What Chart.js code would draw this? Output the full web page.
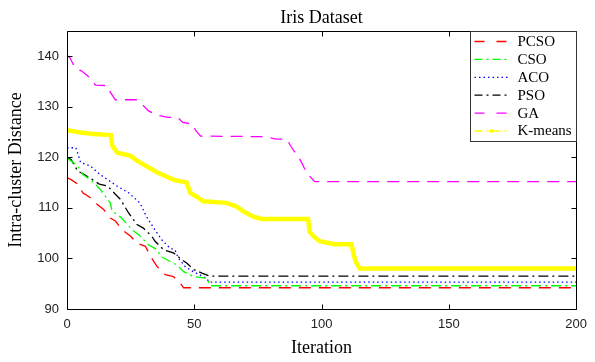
<!DOCTYPE html>
<html>
<head>
<meta charset="utf-8">
<script src="https://cdn.jsdelivr.net/npm/chart.js@4.4.1/dist/chart.umd.min.js"></script>
<style>
  html, body { margin: 0; padding: 0; background: #fff; }
  #wrap { width: 595px; height: 362px; }
</style>
</head>
<body>
<div id="wrap"><canvas id="irisChart" width="595" height="362"></canvas></div>
<script>
// convergence curves: iteration / intra-cluster distance
const pcsoIter = [0, 1.6, 4.2, 6.2, 9.2, 11.8, 14.4, 17, 19, 21.6, 25, 27.5, 30.8, 32.8, 35.4, 38.6, 41.8, 44.5, 45.8, 200];
const pcsoVal  = [116, 115.6, 114.7, 113, 112, 110.7, 109.7, 108, 107.4, 105.7, 104.4, 103, 102.4, 100.4, 98.4, 96.8, 96.4, 95.1, 94.2, 94.2];

const csoIter = [0, 1.6, 4.2, 6.2, 9.2, 10.5, 13, 17, 17.7, 21.5, 25.5, 28.2, 32, 35.5, 36.8, 40.6, 43.2, 45.8, 49.8, 54.8, 56.3, 200];
const csoVal  = [119.8, 119.3, 118.3, 116.6, 115.6, 115, 113.7, 111, 109.4, 108, 105.7, 104.7, 102.7, 101.7, 100.4, 99.4, 98.7, 97.4, 96.4, 96.1, 94.6, 94.6];

const acoIter = [0, 3.5, 4.5, 5.3, 9.2, 13, 19.7, 24.2, 28.6, 31.2, 34.5, 37.2, 40.5, 42.4, 43.7, 46.4, 49.5, 50.8, 54.7, 56, 200];
const acoVal  = [121.9, 121.9, 120.4, 119, 118.3, 116.6, 114.3, 113, 111, 108.3, 105.7, 103.7, 102, 101.7, 100.1, 98.4, 97.4, 97.1, 96.1, 95.3, 95.3];

const psoIter = [0, 1.6, 4.2, 6.8, 10, 12.7, 16, 19, 21, 24.2, 27.5, 30, 33.3, 34.6, 38, 41.8, 45.2, 47, 49.8, 53, 56, 200];
const psoVal  = [120, 119.6, 117.3, 116.6, 115.6, 114.7, 114.3, 112.7, 111.7, 109, 106.7, 106, 104.4, 103.4, 101.7, 101.1, 99.7, 99.1, 97.8, 97.1, 96.5, 96.5];

const gaIter = [0, 1.3, 3, 6, 9.2, 11.2, 15.8, 17, 19, 27.4, 29.7, 32, 35.2, 39.6, 43.5, 45.5, 49.2, 50.6, 52.5, 77.8, 82.2, 86.3, 88.2, 91.5, 93.5, 95.3, 97.3, 200];
const gaVal  = [140.2, 139.6, 137.8, 137, 135.7, 134.3, 134.2, 132.9, 131.4, 131.4, 130.4, 129.2, 128.4, 127.9, 127.9, 126.9, 126.6, 125.3, 124.2, 124.1, 123.6, 123.6, 122, 119.6, 117.6, 116.3, 115.2, 115.2];

const kmIter = [0, 1, 5.5, 10.5, 17.2, 17.8, 19.8, 25, 27.6, 35.5, 41.8, 47, 48.4, 51, 53.5, 62.7, 66.5, 69, 73, 76.3, 94.7, 95.3, 96.8, 99.3, 105, 111.7, 113, 113.7, 115, 200];
const kmVal  = [125.3, 125.3, 124.9, 124.6, 124.4, 122.3, 120.9, 120.3, 119.3, 117, 115.6, 115, 113, 112.2, 111.3, 111, 110.3, 109.4, 108.3, 107.8, 107.8, 105.3, 104.4, 103.4, 102.8, 102.8, 100, 99.1, 98, 98];

const xTicks = [0, 50, 100, 150, 200];
const yTicks = [90, 100, 110, 120, 130, 140];

const toPts = (xs, ys) => xs.map((x, i) => ({ x: x, y: ys[i] }));

const serif = '"Liberation Serif", "Times New Roman", serif';
const sans = '"Liberation Sans", Arial, sans-serif';

// inward ticks + box, matlab style
const boxTicks = {
    id: 'boxTicks',
    afterDatasetsDraw(chart) {
        const { ctx, chartArea: a, scales: { x, y } } = chart;
        const L = Math.round(a.left) + 0.5, R = Math.round(a.right) + 0.5;
        const T = Math.round(a.top) + 0.5, B = Math.round(a.bottom) + 0.5;
        ctx.save();
        ctx.strokeStyle = '#000';
        ctx.lineWidth = 1;
        ctx.setLineDash([]);
        ctx.beginPath();
        ctx.rect(L, T, R - L, B - T);
        xTicks.forEach(v => {
            const px = Math.round(x.getPixelForValue(v)) + 0.5;
            ctx.moveTo(px, B); ctx.lineTo(px, B - 5);
            ctx.moveTo(px, T); ctx.lineTo(px, T + 5);
        });
        yTicks.forEach(v => {
            const py = Math.round(y.getPixelForValue(v)) + 0.5;
            ctx.moveTo(L, py); ctx.lineTo(L + 5, py);
            ctx.moveTo(R, py); ctx.lineTo(R - 5, py);
        });
        ctx.stroke();
        ctx.restore();
    }
};

// boxed legend sitting in the top right corner
const boxLegend = {
    id: 'boxLegend',
    afterDraw(chart) {
        const { ctx, chartArea: a } = chart;
        const w = 106, h = 110;
        const left = Math.round(a.right) - w + 0.5, top = Math.round(a.top) + 0.5;
        ctx.save();
        ctx.fillStyle = '#fff';
        ctx.fillRect(left, top, w, h);
        ctx.strokeStyle = '#333';
        ctx.lineWidth = 1;
        ctx.strokeRect(left, top, w, h);
        ctx.font = '15px ' + serif;
        ctx.textBaseline = 'middle';
        ctx.textAlign = 'left';
        chart.data.datasets.forEach((ds, i) => {
            const cy = top + 10 + i * 17.9;
            ctx.strokeStyle = ds.borderColor;
            ctx.lineWidth = 1.3;
            ctx.setLineDash(ds.legendDash);
            ctx.beginPath();
            ctx.moveTo(left + 4, cy);
            ctx.lineTo(left + 38, cy);
            ctx.stroke();
            if (ds.legendDot) {
                ctx.fillStyle = ds.borderColor;
                ctx.beginPath();
                ctx.arc(left + 21, cy, 2, 0, Math.PI * 2);
                ctx.fill();
            }
            ctx.fillStyle = '#000';
            ctx.fillText(ds.label, left + 47, cy + 0.5);
        });
        ctx.restore();
    }
};

const ctx = document.getElementById('irisChart').getContext('2d');
new Chart(ctx, {
    type: 'line',
    data: {
        datasets: [
            { label: 'PCSO', data: toPts(pcsoIter, pcsoVal), borderColor: '#ff0000', borderWidth: 1.3, borderDash: [12, 8], legendDash: [10, 12] },
            { label: 'CSO', data: toPts(csoIter, csoVal), borderColor: '#00ff00', borderWidth: 1.3, borderDash: [10, 4, 2, 4], legendDash: [8, 4, 2, 4] },
            { label: 'ACO', data: toPts(acoIter, acoVal), borderColor: '#0000ff', borderWidth: 1.3, borderDash: [1.5, 3], legendDash: [1.5, 3] },
            { label: 'PSO', data: toPts(psoIter, psoVal), borderColor: '#000000', borderWidth: 1.3, borderDash: [10, 4, 2, 4], legendDash: [8, 4, 2, 4] },
            { label: 'GA', data: toPts(gaIter, gaVal), borderColor: '#ff00ff', borderWidth: 1.3, borderDash: [12, 8], legendDash: [10, 12] },
            { label: 'K-means', data: toPts(kmIter, kmVal), borderColor: '#ffff00', borderWidth: 4.5, borderDash: [], legendDash: [8, 4, 2, 4], legendDot: true }
        ]
    },
    options: {
        responsive: false,
        animation: false,
        devicePixelRatio: 1,
        layout: { padding: { left: 0, right: 15, top: 0, bottom: 0 } },
        elements: {
            point: { radius: 0 },
            line: { tension: 0, fill: false }
        },
        scales: {
            x: {
                type: 'linear',
                min: 0,
                max: 200,
                grid: { display: false, drawTicks: false },
                border: { display: false },
                afterBuildTicks: s => { s.ticks = xTicks.map(v => ({ value: v })); },
                afterFit: s => { s.height = 53; },
                ticks: {
                    padding: 8,
                    maxRotation: 0,
                    color: '#222',
                    font: { family: sans, size: 13 }
                },
                title: {
                    display: true,
                    text: 'Iteration',
                    color: '#000',
                    padding: { top: 0, bottom: 3 },
                    font: { family: serif, size: 18 }
                }
            },
            y: {
                min: 90,
                max: 145,
                grid: { display: false, drawTicks: false },
                border: { display: false },
                afterBuildTicks: s => { s.ticks = yTicks.map(v => ({ value: v })); },
                afterFit: s => { s.width = 67; },
                ticks: {
                    padding: 8,
                    color: '#222',
                    font: { family: sans, size: 13 }
                },
                title: {
                    display: true,
                    text: 'Intra-cluster Distance',
                    color: '#000',
                    padding: { top: 5, bottom: 0 },
                    font: { family: serif, size: 18 }
                }
            }
        },
        plugins: {
            legend: { display: false },
            tooltip: { enabled: false },
            title: {
                display: true,
                text: 'Iris Dataset',
                fullSize: false,
                color: '#000',
                padding: { top: 7, bottom: 2.4 },
                font: { family: serif, size: 18, weight: 'normal' }
            }
        }
    },
    plugins: [boxTicks, boxLegend]
});
</script>
</body>
</html>
